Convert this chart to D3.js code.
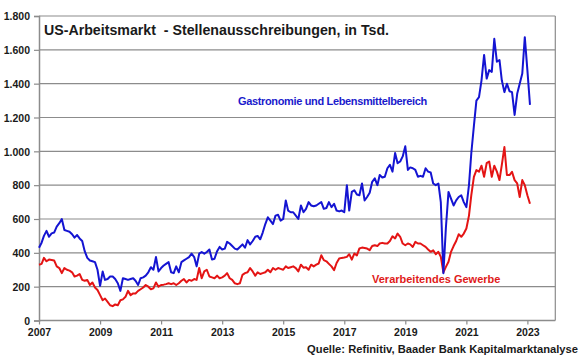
<!DOCTYPE html>
<html><head><meta charset="utf-8">
<script src="https://cdn.jsdelivr.net/npm/d3@7"></script>
<style>body{margin:0;background:#fff}svg{display:block}text{font-family:"Liberation Sans",Arial,sans-serif}</style>
</head><body><svg id="c" width="580" height="359"></svg>
<script>
const startYear = 2007;
const gastronomie = [
 430,460,500,530,495,515,520,555,575,600,535,530,
 525,510,490,505,485,470,410,370,355,350,345,300,
 205,290,240,245,260,260,245,220,175,250,245,240,
 245,250,235,210,250,255,265,285,315,300,375,290,
 310,325,335,345,285,280,320,285,345,355,365,375,
 395,375,320,395,405,395,405,420,360,365,410,435,
 420,425,465,455,440,425,420,435,450,430,475,450,
 470,495,500,480,520,570,610,590,570,620,625,590,
 600,710,650,640,640,620,600,680,640,660,700,680,
 675,680,690,700,660,665,700,670,690,650,645,650,
 640,800,650,760,770,745,740,810,710,730,755,820,
 840,800,860,845,850,900,920,880,990,930,940,970,
 1030,890,905,900,890,850,855,850,900,880,875,810,
 800,810,700,280,550,760,720,680,710,730,740,700,
 670,800,990,1150,1300,1320,1420,1570,1430,1480,1470,1665,
 1530,1540,1420,1350,1400,1355,1350,1215,1340,1400,1460,1675,
 1480,1275
];
const verarbeitend = [
 330,335,370,350,360,358,355,320,310,280,310,300,
 295,285,260,265,275,240,235,240,210,225,195,180,
 150,120,130,110,90,85,95,90,120,125,140,175,
 150,160,160,175,185,195,210,200,185,190,225,200,
 210,212,215,220,215,220,210,220,235,245,225,240,
 235,245,240,310,250,290,300,260,255,250,265,250,
 255,265,280,250,240,220,215,220,270,280,285,310,
 290,265,285,275,280,285,300,285,310,300,310,305,
 300,320,310,315,320,310,290,330,312,315,300,330,
 320,330,337,386,357,350,335,320,298,340,366,370,
 372,376,392,360,396,385,426,431,428,425,416,440,
 445,440,455,459,455,455,470,498,485,514,495,455,
 445,455,450,435,465,455,455,445,435,420,406,415,
 392,406,376,285,317,347,406,440,470,510,495,514,
 544,620,741,849,889,880,915,850,930,940,850,915,
 880,830,920,1025,860,860,879,830,810,730,830,800,
 740,690
];
const yTicks = [0,200,400,600,800,1000,1200,1400,1600,1800];
const xTickYears = [2007,2009,2011,2013,2015,2017,2019,2021,2023];
const titleText = "US-Arbeitsmarkt  - Stellenausschreibungen, in Tsd.";
const labelGastro = "Gastronomie und Lebensmittelbereich";
const labelVerarb = "Verarbeitendes Gewerbe";
const sourceText = "Quelle: Refinitiv, Baader Bank Kapitalmarktanalyse";

const svg = d3.select("#c");
const L = 39, R = 555.3, T = 16, B = 320.5;
const x = d3.scaleTime().domain([new Date(2007,0,1), new Date(2023,11,1)]).range([L, R]);
const y = d3.scaleLinear().domain([0,1800]).range([B, T]);
const dateOf = i => new Date(startYear, i, 1);
const fmt = d3.format(",");
const de = v => fmt(v).replace(/,/g, ".");

// grid
svg.append("g").selectAll("line").data(yTicks.filter(v=>v>0)).join("line")
  .attr("x1", L).attr("x2", R).attr("y1", d=>y(d)).attr("y2", d=>y(d))
  .attr("stroke", "#8c8c8c").attr("stroke-width", 1.2);
// frame right
svg.append("line").attr("x1", R).attr("x2", R).attr("y1", T).attr("y2", B).attr("stroke", "#8c8c8c").attr("stroke-width", 1.2);

// y axis
const ya = svg.append("g").attr("transform", `translate(${L},0)`)
  .call(d3.axisLeft(y).tickValues(yTicks).tickSize(5).tickPadding(4).tickFormat(de));
ya.select(".domain").attr("stroke", "#8c8c8c").attr("stroke-width", 1.5);
ya.selectAll(".tick line").attr("stroke", "#8c8c8c").attr("stroke-width", 1.2);
ya.selectAll("text").attr("font-size", 10.5).attr("font-weight", "bold").attr("fill", "#1a1a1a")
  .attr("font-family", "Liberation Sans, Arial, sans-serif").attr("dy", "0.35em");

// x axis
const xa = svg.append("g").attr("transform", `translate(0,${B})`)
  .call(d3.axisBottom(x).tickValues(xTickYears.map(yy=>new Date(yy,0,1))).tickSize(4).tickPadding(4).tickFormat(d3.timeFormat("%Y")));
xa.select(".domain").attr("stroke", "#8c8c8c").attr("stroke-width", 1.5).attr("d", `M${L},0H${R}`);
xa.selectAll(".tick line").attr("stroke", "#8c8c8c").attr("stroke-width", 1.2);
xa.selectAll("text").attr("font-size", 10.5).attr("font-weight", "bold").attr("fill", "#1a1a1a")
  .attr("font-family", "Liberation Sans, Arial, sans-serif");

// lines
const line = d3.line().x((d,i)=>x(dateOf(i))).y(d=>y(d));
svg.append("path").datum(verarbeitend).attr("d", line).attr("fill","none")
  .attr("stroke", "#e41414").attr("stroke-width", 2).attr("stroke-linejoin","round");
svg.append("path").datum(gastronomie).attr("d", line).attr("fill","none")
  .attr("stroke", "#1414d2").attr("stroke-width", 2).attr("stroke-linejoin","round");

// texts
svg.append("text").attr("x", 44).attr("y", 35).attr("font-size", 14.2).attr("font-weight","bold")
  .attr("fill","#1a1a1a").style("white-space","pre").text(titleText);
svg.append("text").attr("x", 238).attr("y", 105).attr("font-size", 11).attr("font-weight","bold")
  .attr("letter-spacing", -0.35).attr("fill","#1a1acc").text(labelGastro);
svg.append("text").attr("x", 372).attr("y", 283).attr("font-size", 11).attr("font-weight","bold")
  .attr("fill","#e01a1a").text(labelVerarb);
svg.append("text").attr("x", 578).attr("y", 353).attr("text-anchor","end").attr("font-size", 11.2).attr("font-weight","bold")
  .attr("fill","#1a1a1a").text(sourceText);
</script></body></html>
